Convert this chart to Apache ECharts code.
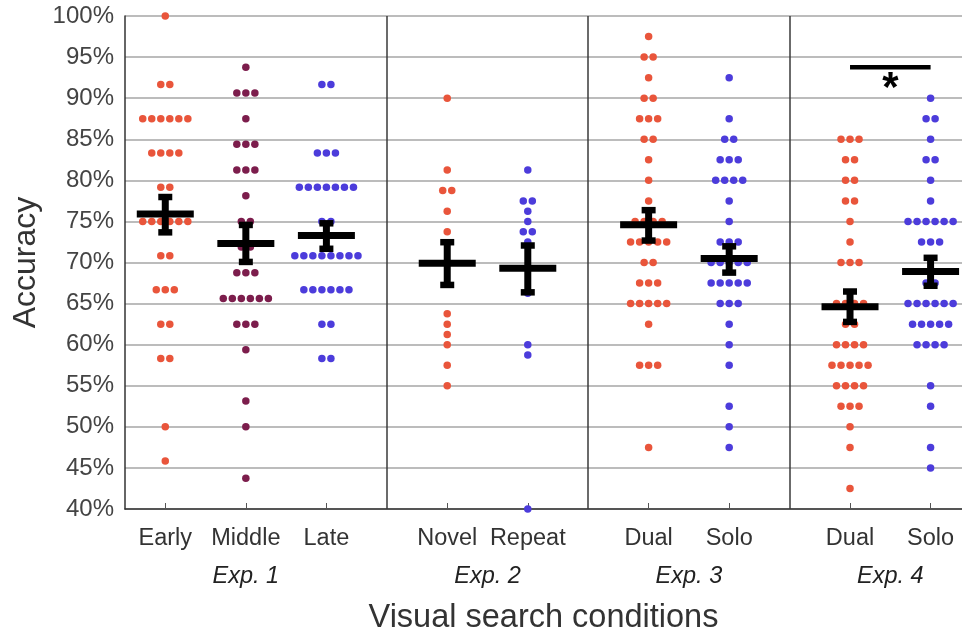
<!DOCTYPE html>
<html>
<head>
<meta charset="utf-8">
<script src="https://cdn.jsdelivr.net/npm/echarts@6/dist/echarts.min.js"></script>
<style>
html,body{margin:0;padding:0;background:#fff;}
#chart{width:962px;height:637px;}
</style>
</head>
<body>
<div id="chart"></div>
<script>
// ---- data ----
var categories = ['Early','Middle','Late','Novel','Repeat','Dual','Solo','Dual','Solo'];
var positions  = [1, 2, 3, 4.5, 5.5, 7, 8, 9.5, 10.5];
var expLabels  = ['Exp. 1','Exp. 2','Exp. 3','Exp. 4'];
var expMembers = [[0,1,2],[3,4],[5,6],[7,8]];
var yTicks = [40,45,50,55,60,65,70,75,80,85,90,95,100];

var early  = [100, 91.67,91.67, 87.5,87.5,87.5,87.5,87.5,87.5, 83.33,83.33,83.33,83.33, 79.17,79.17,
              75,75,75,75,75,75, 70.83,70.83, 66.67,66.67,66.67, 62.5,62.5, 58.33,58.33, 50, 45.83];
var middle = [93.75, 90.63,90.63,90.63, 87.5, 84.38,84.38,84.38, 81.25,81.25,81.25, 78.13, 75,75,
              71.88,71.88, 68.75,68.75,68.75, 65.63,65.63,65.63,65.63,65.63,65.63, 62.5,62.5,62.5,
              59.38, 53.13, 50, 43.75];
var late   = [91.67,91.67, 83.33,83.33,83.33, 79.17,79.17,79.17,79.17,79.17,79.17,79.17, 75,75,
              70.83,70.83,70.83,70.83,70.83,70.83,70.83,70.83, 66.67,66.67,66.67,66.67,66.67,66.67,
              62.5,62.5, 58.33,58.33];
var novel  = [90, 81.25, 78.75,78.75, 76.25, 73.75, 63.75, 62.5, 61.25, 60, 57.5, 55];
var repeat = [81.25, 77.5,77.5, 76.25, 75, 73.75,73.75, 72.5, 66.25, 60, 58.75, 40];
var dual3  = [97.5, 95,95, 92.5, 90,90, 87.5,87.5,87.5, 85,85, 82.5, 80, 77.5, 75,75,75,75,
              72.5,72.5,72.5,72.5,72.5, 70,70, 67.5,67.5,67.5, 65,65,65,65,65, 62.5, 57.5,57.5,57.5, 47.5];
var solo3  = [92.5, 87.5, 85,85, 82.5,82.5,82.5, 80,80,80,80, 77.5, 75, 72.5,72.5,72.5,
              70,70,70,70,70, 67.5,67.5,67.5,67.5,67.5, 65,65,65, 62.5, 60, 57.5, 52.5, 50, 47.5];
var dual4  = [85,85,85, 82.5,82.5, 80,80, 77.5,77.5, 75, 72.5, 70,70,70, 65,65,65,65, 62.5,62.5,
              60,60,60,60, 57.5,57.5,57.5,57.5,57.5, 55,55,55,55, 52.5,52.5,52.5, 50, 47.5, 42.5];
var solo4  = [90, 87.5,87.5, 85, 82.5,82.5, 80, 77.5, 75,75,75,75,75,75, 72.5,72.5,72.5, 67.5,67.5,
              65,65,65,65,65,65, 62.5,62.5,62.5,62.5,62.5, 60,60,60,60, 55, 52.5, 47.5, 45];
var groups = [early, middle, late, novel, repeat, dual3, solo3, dual4, solo4];

var means  = [75.9, 72.3, 73.3, 69.9, 69.3, 74.6, 70.5, 64.6, 68.9];
var errHi  = [78.0, 74.6, 74.8, 72.5, 72.1, 76.4, 72.0, 66.5, 70.6];
var errLo  = [73.7, 70.1, 71.7, 67.3, 66.4, 72.7, 68.8, 62.8, 67.2];

var sigFrom = 7, sigTo = 8, sigLevel = 93.8, sigText = '*';

// ---- styles ----
var ORANGE = '#E9553B', MAROON = '#7C1D4C', BLUE = '#4C3CDB';
var groupColors = [ORANGE, MAROON, BLUE, ORANGE, BLUE, ORANGE, BLUE, ORANGE, BLUE];
var FONT = '"Liberation Sans", Arial, Helvetica, sans-serif';
var TXT = '#333333';
var DOT_STEP = 0.112; // horizontal spacing of swarm dots (x units)

function swarm(vals, center) {
  var counts = {}, idx = {};
  vals.forEach(function (v) { counts[v] = (counts[v] || 0) + 1; });
  return vals.map(function (v) {
    var n = counts[v];
    var i = idx[v] || 0; idx[v] = i + 1;
    return [center + (i - (n - 1) / 2) * DOT_STEP, v];
  });
}

var expCenters = expMembers.map(function (m) {
  var s = 0; m.forEach(function (k) { s += positions[k]; }); return s / m.length;
});
var separators = [];
for (var e = 0; e < expMembers.length - 1; e++) {
  var a = expMembers[e][expMembers[e].length - 1], b = expMembers[e + 1][0];
  separators.push((positions[a] + positions[b]) / 2);
}

var series = [];
groups.forEach(function (g, k) {
  series.push({
    type: 'scatter',
    xAxisIndex: 0, yAxisIndex: 0,
    symbol: 'circle', symbolSize: 7.5,
    itemStyle: { color: groupColors[k], opacity: 1 },
    data: swarm(g, positions[k]),
    silent: true, z: 2,
    markLine: k === 0 ? {
      silent: true, symbol: 'none', label: { show: false },
      lineStyle: { color: '#3a3a3a', width: 1.5, type: 'solid' },
      data: separators.map(function (x) { return { xAxis: x }; })
    } : undefined
  });
});

// error bars
series.push({
  type: 'custom',
  xAxisIndex: 0, yAxisIndex: 0,
  z: 5, silent: true,
  data: positions.map(function (p, k) { return [p, means[k], errLo[k], errHi[k]]; }),
  renderItem: function (params, api) {
    var x = api.value(0);
    var pm = api.coord([x, api.value(1)]);
    var pl = api.coord([x, api.value(2)]);
    var ph = api.coord([x, api.value(3)]);
    var st = { fill: '#000' };
    return {
      type: 'group',
      children: [
        { type: 'rect', shape: { x: pm[0] - 3.5, y: ph[1], width: 7, height: pl[1] - ph[1] }, style: st },
        { type: 'rect', shape: { x: pm[0] - 7, y: ph[1] - 3, width: 14, height: 6.5 }, style: st },
        { type: 'rect', shape: { x: pm[0] - 7, y: pl[1] - 3, width: 14, height: 6.5 }, style: st },
        { type: 'rect', shape: { x: pm[0] - 28.5, y: pm[1] - 3.5, width: 57, height: 7 }, style: st }
      ]
    };
  }
});

// significance bar
series.push({
  type: 'custom',
  xAxisIndex: 0, yAxisIndex: 0,
  z: 5, silent: true,
  data: [[positions[sigFrom], positions[sigTo], sigLevel]],
  renderItem: function (params, api) {
    var p1 = api.coord([api.value(0), api.value(2)]);
    var p2 = api.coord([api.value(1), api.value(2)]);
    return {
      type: 'group',
      children: [
        { type: 'rect', shape: { x: p1[0], y: p1[1] - 2, width: p2[0] - p1[0], height: 4.5 }, style: { fill: '#000' } },
        { type: 'text', style: { text: sigText, x: (p1[0] + p2[0]) / 2, y: p1[1] + 1,
            fill: '#000', font: 'bold 42px ' + FONT, align: 'center', verticalAlign: 'top' } }
      ]
    };
  }
});

var xMin = 0.5, xMax = 10.89;
var option = {
  backgroundColor: '#ffffff',
  animation: false,
  grid: { left: 125, right: 0, top: 16, bottom: 128, containLabel: false, outerBoundsMode: 'none' },
  xAxis: [{
    type: 'value', min: xMin, max: xMax,
    name: 'Visual search conditions', nameLocation: 'middle', nameGap: 93,
    nameTextStyle: { fontSize: 32.5, color: TXT, fontFamily: FONT },
    axisLine: { show: true, onZero: false, lineStyle: { color: '#333', width: 1.5 } },
    axisTick: { show: true, inside: true, length: 6, customValues: positions, lineStyle: { color: '#555', width: 1 } },
    axisLabel: {
      show: true, customValues: positions, margin: 18,
      fontSize: 23.5, color: TXT, fontFamily: FONT,
      formatter: function (v) {
        for (var i = 0; i < positions.length; i++) if (Math.abs(positions[i] - v) < 1e-6) return categories[i];
        return '';
      }
    },
    splitLine: { show: false }
  }, {
    type: 'value', min: xMin, max: xMax, position: 'bottom', offset: 48,
    axisLine: { show: false }, axisTick: { show: false }, splitLine: { show: false },
    axisLabel: {
      show: true, customValues: expCenters, margin: 8,
      fontSize: 23.5, fontStyle: 'italic', color: '#222', fontFamily: FONT,
      formatter: function (v) {
        for (var i = 0; i < expCenters.length; i++) if (Math.abs(expCenters[i] - v) < 1e-6) return expLabels[i];
        return '';
      }
    }
  }],
  yAxis: {
    type: 'value', min: yTicks[0], max: yTicks[yTicks.length - 1], interval: 5,
    name: 'Accuracy', nameLocation: 'middle', nameGap: 80,
    nameTextStyle: { fontSize: 32, color: TXT, fontFamily: FONT },
    axisLine: { show: true, lineStyle: { color: '#333', width: 1.5 } },
    axisTick: { show: false },
    axisLabel: { fontSize: 24, color: '#444', fontFamily: FONT, margin: 11, formatter: '{value}%' },
    splitLine: { show: true, lineStyle: { color: '#a6a6a6', width: 1.5 } }
  },
  series: series
};

var chart = echarts.init(document.getElementById('chart'), null, { renderer: 'canvas' });
chart.setOption(option);
</script>
</body>
</html>
